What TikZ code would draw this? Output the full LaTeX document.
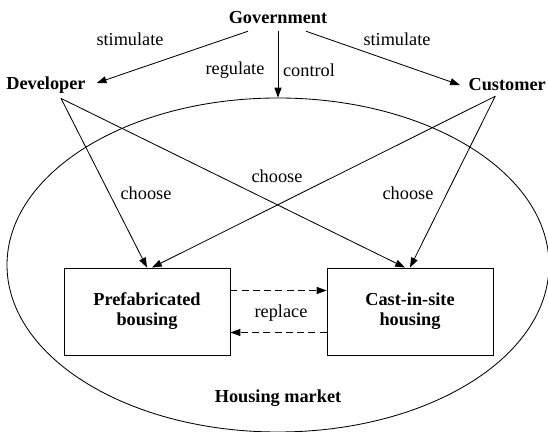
\documentclass[tikz,border=0pt]{standalone}
\usepackage{fontspec}
\setmainfont{Liberation Serif}
\usetikzlibrary{arrows.meta}
\usetikzlibrary{positioning}
\usetikzlibrary{shapes.geometric}

\begin{document}
\begin{tikzpicture}[
    font=\fontsize{13}{14.2}\selectfont,
    line width=0.6pt,
    arr/.style={-{Triangle[length=7pt,width=5pt]}},
    house/.style={draw, minimum width=4.15cm, minimum height=2.175cm, align=center, font=\fontsize{13}{14.2}\selectfont\bfseries}
  ]
  \useasboundingbox (0,0) rectangle (13.7,10.8);

  \node [font=\fontsize{13}{14.2}\selectfont\bfseries] (gov) at (6.95,10.35) {Government};
  \node [font=\fontsize{13}{14.2}\selectfont\bfseries] (dev) at (1.15,8.675) {Developer};
  \node [font=\fontsize{13}{14.2}\selectfont\bfseries] (cust) at (12.68,8.675) {Customer};

  % market
  \node [draw, ellipse, inner sep=0, minimum width=13.55cm, minimum height=8.35cm] (market) at (6.95,4.175) {};
  \node [font=\fontsize{13}{14.2}\selectfont\bfseries] (marketlabel) at (6.95,0.85) {Housing market};

  \node [house] (pre) at (3.675,3.0125) {Prefabricated\\bousing};
  \node [house] (cast) at (10.25,3.0125) {Cast-in-site\\housing};

  % government
  \draw [arr] ([xshift=-0.75cm,yshift=-0.05cm]gov.south) -- ([xshift=0.15cm,yshift=0.05cm]dev.east);
  \draw [arr] ([xshift=0.7cm,yshift=-0.05cm]gov.south) -- ([xshift=-0.09cm]cust.west);
  \draw [arr] ([yshift=-0.05cm]gov.south) -- (market.north);
  \node at (3.25,9.825) {stimulate};
  \node at (9.925,9.825) {stimulate};
  \node at (5.875,9.05) {regulate};
  \node at (7.725,9.05) {control};

  % choose
  \draw [arr] ([xshift=0.375cm]dev.south) -- (pre.north);
  \draw [arr] ([xshift=0.375cm]dev.south) -- ([xshift=-0.125cm]cast.north);
  \draw [arr] ([xshift=-0.3cm]cust.south) -- ([xshift=0.125cm]pre.north);
  \draw [arr] ([xshift=-0.3cm]cust.south) -- (cast.north);
  \node at (3.65,5.975) {choose};
  \node at (6.925,6.4) {choose};
  \node at (10.2,5.975) {choose};

  % replace
  \draw [arr, dash pattern=on 5pt off 3pt] ([yshift=0.525cm]pre.east) -- ([yshift=0.525cm]cast.west);
  \draw [arr, dash pattern=on 5pt off 3pt] ([yshift=-0.525cm]cast.west) -- ([yshift=-0.525cm]pre.east);
  \node at (7.025,2.975) {replace};
\end{tikzpicture}
\end{document}
